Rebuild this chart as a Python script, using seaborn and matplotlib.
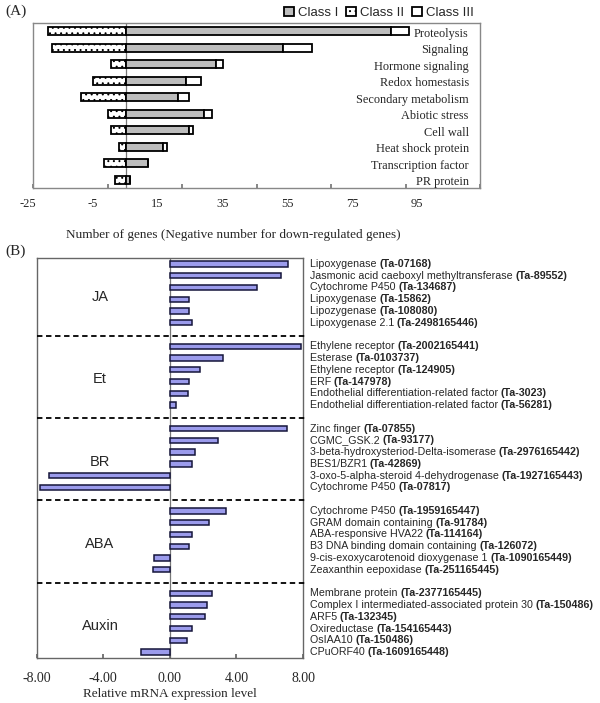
import matplotlib
matplotlib.use("Agg")
import matplotlib.pyplot as plt
import numpy as np
import pandas as pd
import seaborn as sns
from matplotlib.patches import Patch


# Panel A: number of genes per functional category
CATEGORIES = [
    "Proteolysis", "Signaling", "Hormone signaling", "Redox homestasis",
    "Secondary metabolism", "Abiotic stress", "Cell wall", "Heat shock protein",
    "Transcription factor", "PR protein",
]
CLASS_I = [71, 42, 24, 16, 14, 21, 17, 10, 6, 1]
CLASS_II = [-21, -20, -4, -9, -12, -5, -4, -2, -6, -3]
CLASS_III = [5, 8, 2, 4, 3, 2, 1, 1, 0, 0]
A_TICKS = [-25, -5, 15, 35, 55, 75, 95]

# Panel B: relative expression of hormone related genes
GROUPS = ["JA", "Et", "BR", "ABA", "Auxin"]
GENE_NAMES = [
    ["Lipoxygenase", "Jasmonic acid caeboxyl methyltransferase", "Cytochrome P450",
     "Lipoxygenase", "Lipozygenase", "Lipoxygenase 2.1"],
    ["Ethylene receptor", "Esterase", "Ethylene receptor", "ERF",
     "Endothelial differentiation-related factor", "Endothelial differentiation-related factor"],
    ["Zinc finger", "CGMC_GSK.2", "3-beta-hydroxysteriod-Delta-isomerase", "BES1/BZR1",
     "3-oxo-5-alpha-steroid 4-dehydrogenase", "Cytochrome P450"],
    ["Cytochrome P450", "GRAM domain containing", "ABA-responsive HVA22",
     "B3 DNA binding domain containing", "9-cis-exoxycarotenoid dioxygenase 1",
     "Zeaxanthin eepoxidase"],
    ["Membrane protein", "Complex I intermediated-associated protein 30", "ARF5",
     "Oxireductase", "OsIAA10", "CPuORF40"],
]
GENE_IDS = [
    ["Ta-07168", "Ta-89552", "Ta-134687", "Ta-15862", "Ta-108080", "Ta-2498165446"],
    ["Ta-2002165441", "Ta-0103737", "Ta-124905", "Ta-147978", "Ta-3023", "Ta-56281"],
    ["Ta-07855", "Ta-93177", "Ta-2976165442", "Ta-42869", "Ta-1927165443", "Ta-07817"],
    ["Ta-1959165447", "Ta-91784", "Ta-114164", "Ta-126072", "Ta-1090165449", "Ta-251165445"],
    ["Ta-2377165445", "Ta-150486", "Ta-132345", "Ta-154165443", "Ta-150486", "Ta-1609165448"],
]
EXPRESSION = [
    [7.12, 6.66, 5.22, 1.18, 1.18, 1.36],
    [7.86, 3.20, 1.84, 1.18, 1.10, 0.36],
    [7.04, 2.88, 1.52, 1.32, -7.28, -7.80],
    [3.36, 2.38, 1.32, 1.18, -0.96, -1.02],
    [2.52, 2.26, 2.12, 1.32, 1.02, -1.74],
]
B_TICKS = [-8, -4, 0, 4, 8]

SERIF = ["Liberation Serif", "DejaVu Serif"]
SANS = ["Liberation Sans", "DejaVu Sans"]


def configure_style() -> None:
    sns.set_theme(style="white")
    plt.rcParams["font.family"] = SERIF
    plt.rcParams["hatch.linewidth"] = 0.7
    plt.rcParams["hatch.color"] = "#555555"


def plot_panel_a(fig) -> None:
    ax = fig.add_axes([33 / 600, 1 - 188 / 703, 447 / 600, 165 / 703])
    df = pd.DataFrame({"category": CATEGORIES, "c1": CLASS_I, "c2": CLASS_II, "c3": CLASS_III})
    pos = np.arange(len(df))

    edge = dict(edgecolor="black", linewidth=1.3, height=0.5)
    ax.barh(pos, df["c2"], color="white", hatch="...", **edge)
    sns.barplot(data=df, x="c1", y="category", orient="h", color="#bdbdbd",
                width=0.5, edgecolor="black", linewidth=1.3, saturation=1, ax=ax)
    ax.barh(pos, df["c3"], left=df["c1"], color="white", **edge)

    ax.axvline(0, color="#777777", lw=0.9, zorder=0.5)
    ax.set_xlim(-25, 95)
    ax.set_ylim(len(df) - 0.5, -0.5)
    ax.set_xticks(A_TICKS)
    ax.set_xticklabels([])
    ax.tick_params(axis="x", direction="in", length=3, color="#777777", bottom=True)
    ax.set_yticks([])
    ax.set_xlabel("")
    ax.set_ylabel("")
    for s in ax.spines.values():
        s.set_color("#888888")
        s.set_linewidth(1.0)

    for p, name in zip(pos, df["category"]):
        ax.text(0.975, p + 0.15, name, transform=ax.get_yaxis_transform(),
                ha="right", va="center", fontsize=8.8, family=SERIF)

    # tick labels as printed in the figure (not aligned to the tick marks)
    ax_lab = fig.add_axes([28 / 600, 1 - 198 / 703, 389 / 600, 0.0001])
    ax_lab.set_xlim(-25, 95)
    ax_lab.set_xticks(A_TICKS)
    ax_lab.set_xticklabels([str(t) for t in A_TICKS], fontsize=9)
    ax_lab.tick_params(axis="x", length=0, pad=0)
    ax_lab.set_yticks([])
    for s in ax_lab.spines.values():
        s.set_visible(False)
    fig.text(233 / 600, 1 - 235 / 703,
             "Number of genes (Negative number for down-regulated genes)",
             ha="center", va="center", fontsize=9.5, family=SERIF)

    handles = [
        Patch(facecolor="#bdbdbd", edgecolor="black", linewidth=1.3, label="Class I"),
        Patch(facecolor="white", edgecolor="black", hatch="...", linewidth=1.3, label="Class II"),
        Patch(facecolor="white", edgecolor="black", linewidth=1.3, label="Class III"),
    ]
    fig.legend(handles=handles, loc="center right", bbox_to_anchor=(479 / 600, 1 - 13 / 703),
               ncol=3, frameon=False, handlelength=0.75, handleheight=0.75,
               handletextpad=0.3, columnspacing=0.6, borderaxespad=0,
               prop={"family": SANS, "size": 9.5})
    fig.text(5 / 600, 1 - 11 / 703, "(A)", fontsize=11, va="center", family=SERIF)


def plot_panel_b(fig) -> None:
    ax = fig.add_axes([36.7 / 600, 1 - 658 / 703, 266.3 / 600, 400 / 703])
    rows = []
    for g, group in enumerate(GROUPS):
        for j in range(6):
            rows.append({"group": group, "pos": g * 7 + j, "value": EXPRESSION[g][j],
                         "name": GENE_NAMES[g][j], "gid": GENE_IDS[g][j]})
    df = pd.DataFrame(rows)

    sns.barplot(data=df, x="value", y="pos", orient="h", native_scale=True,
                color="#9b9bec", width=0.45, edgecolor="#15153a", linewidth=1.1,
                saturation=1, ax=ax)
    ax.axvline(0, color="#777777", lw=0.9, zorder=0.5)
    ax.set_xlim(-8, 8)
    ax.set_ylim(33.5, -0.5)
    ax.set_yticks([])
    ax.set_ylabel("")
    ax.set_xticks(B_TICKS)
    ax.set_xticklabels([f"{t:.2f}" for t in B_TICKS], fontsize=10)
    ax.tick_params(axis="x", direction="in", length=3, color="#666666", bottom=True, pad=10)
    ax.set_xlabel("Relative mRNA expression level", fontsize=9.5, labelpad=2)
    for s in ax.spines.values():
        s.set_color("#666666")
        s.set_linewidth(1.0)

    for g in range(len(GROUPS) - 1):
        ax.plot([-8, 8.1], [g * 7 + 6.1] * 2, color="black", lw=1.3,
                linestyle=(0, (3, 2)), clip_on=False, zorder=3)

    for g, group in enumerate(GROUPS):
        ax.text(-4.2, g * 7 + 2.8, group, ha="center", va="center",
                fontsize=10.5, family=SANS)

    for _, r in df.iterrows():
        t = ax.text(1.025, r["pos"], r["name"] + " ", transform=ax.get_yaxis_transform(),
                    ha="left", va="center", fontsize=7.7, family=SANS, clip_on=False)
        ax.annotate(f"({r['gid']})", xy=(1, 0), xycoords=t, ha="left", va="bottom",
                    fontsize=7.7, family=SANS, fontweight="bold", annotation_clip=False)

    fig.text(5 / 600, 1 - 251 / 703, "(B)", fontsize=11, va="center", family=SERIF)


def main() -> None:
    configure_style()
    fig = plt.figure(figsize=(6, 7.03), dpi=100)
    plot_panel_a(fig)
    plot_panel_b(fig)
    fig.savefig("out.png", dpi=100)


if __name__ == "__main__":
    main()
